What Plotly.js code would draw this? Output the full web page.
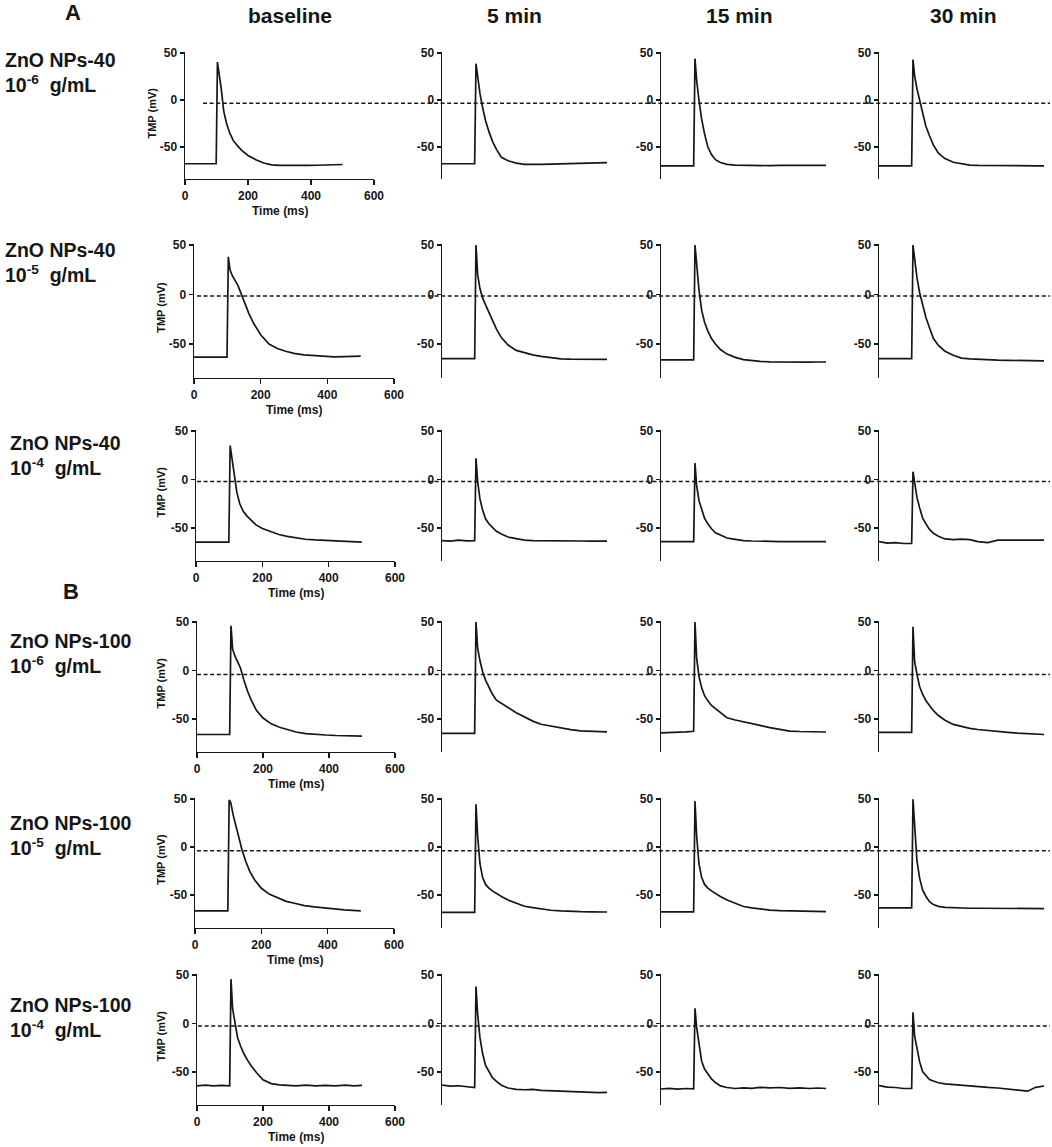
<!DOCTYPE html>
<html><head><meta charset="utf-8">
<script src="https://cdn.plot.ly/plotly-3.0.1.min.js"></script>
<style>html,body{margin:0;padding:0;background:#fff}#chart{width:1052px;height:1147px}</style>
</head><body><div id="chart"></div>
<script>
// ---------- data ----------
const timeMs = [0,25,50,75,99,103,108,115,123,132,142,153,165,180,200,225,250,275,300,330,360,390,420,450,475,500];
const columnTitles = ['baseline','5 min','15 min','30 min'];
const groupNames = ['ZnO NPs-40','ZnO NPs-40','ZnO NPs-40','ZnO NPs-100','ZnO NPs-100','ZnO NPs-100'];
const concExponents = ['-6','-5','-4','-6','-5','-4'];
const panelLetters = ['A','B'];
const yTickVals = [-50,0,50];
const yTickText = ['-50','0','50'];
const xTickVals = [0,200,400,600];
const xTickText = ['0','200','400','600'];
const refLineMv = [-3.5,-1.5,-2,-4,-4,-2.5];

// ZnO NPs-40, 10^-6 g/mL
const np40e6_baseline = [-67.8,-67.9,-67.7,-67.9,-67.8,40.4,30,12,-12,-25,-35,-43,-48,-53.5,-59,-63.5,-67,-69,-69.6,-69.8,-69.6,-69.5,-69.4,-69.2,-68.8,-68.6];
const np40e6_5min = [-67.8,-67.9,-67.7,-67.9,-67.8,38.6,24,7,-8,-22,-33.4,-44,-52.5,-61,-64.6,-67.2,-68.4,-68.8,-68.5,-68.2,-68,-67.8,-67.5,-67.2,-66.9,-66.6];
const np40e6_15min = [-70,-70,-70.2,-70,-70,44,21,0,-20,-36,-50,-58,-63.5,-66.5,-68.5,-69.3,-69.6,-69.7,-69.7,-69.8,-69.6,-69.7,-69.5,-69.6,-69.5,-69.5];
const np40e6_30min = [-70,-70,-70,-70.2,-70,43,26,12,-0.5,-14,-28,-38,-48,-56.5,-62.3,-66.2,-68,-69.2,-69.6,-69.8,-70,-70,-69.9,-70,-70,-70];
// ZnO NPs-40, 10^-5 g/mL
const np40e5_baseline = [-63.3,-63.4,-63.3,-63.4,-63.3,38,25,19,14,9,0.4,-9.3,-19.5,-29.8,-40.6,-50.1,-54.5,-57.3,-59.5,-61,-61.8,-62.4,-63,-62.8,-62.6,-62.3];
const np40e5_5min = [-64.8,-64.9,-64.8,-64.9,-64.8,50,20,6,-3.4,-10.5,-18.5,-26.5,-35,-43.5,-51,-56.5,-59,-61,-62.5,-63.7,-65,-65.3,-65.5,-65.5,-65.5,-65.5];
const np40e5_15min = [-66,-66.1,-66,-66.1,-66,50,28,5,-15.5,-28,-37,-44.5,-50,-55.6,-60.2,-63.5,-65.8,-67,-67.6,-68,-68.2,-68.2,-68.2,-68.3,-68.2,-68.2];
const np40e5_30min = [-64.8,-64.9,-64.8,-64.9,-64.8,50,35,17,2,-11,-23,-33.5,-44.5,-51.5,-57.3,-61.4,-64.2,-65,-65.6,-66,-66.3,-66.5,-66.6,-66.8,-66.9,-67];
// ZnO NPs-40, 10^-4 g/mL
const np40e4_baseline = [-64.5,-64.6,-64.5,-64.6,-64.5,35,22,9,-13,-25,-32.5,-37.5,-42,-46.5,-50.5,-54,-56.7,-58.6,-60,-61.6,-62.3,-62.8,-63.6,-64,-64.3,-64.5];
const np40e4_5min = [-63,-63.5,-62.6,-63.3,-63,21.8,-2,-20,-31.5,-40.5,-45.6,-49.8,-53.4,-56.2,-59.3,-61,-62.5,-63,-63.2,-63.4,-63.3,-63.5,-63.4,-63.5,-63.4,-63.5];
const np40e4_15min = [-64,-64,-64.1,-64,-64,17,-6,-21.6,-31.4,-40,-45.7,-50.8,-54.9,-57.4,-60.3,-61.7,-63,-63.4,-63.7,-63.9,-64,-64,-64.1,-64,-64.1,-64];
const np40e4_30min = [-64,-65.5,-65,-66,-65.8,8,-3,-18.5,-29,-39.5,-45.5,-51.5,-55.5,-58.5,-61.3,-62,-61.5,-62,-64,-65,-62.5,-62.5,-62.7,-62.5,-62.7,-62.6];
// ZnO NPs-100, 10^-6 g/mL
const np100e6_baseline = [-66,-66.1,-66,-66.1,-66,46,22,15,9.3,2.3,-9.7,-21.2,-31,-41,-49,-55,-58.5,-61.2,-63.4,-65,-66,-66.5,-67,-67.2,-67.4,-67.6];
const np100e6_5min = [-64.8,-64.9,-64.8,-64.9,-64.8,50,23,10,-1,-10,-17.5,-24.5,-30.6,-33.5,-38.2,-43.5,-47.6,-52.2,-55.4,-57.4,-59.2,-60.9,-62.3,-62.8,-63.1,-63.3];
const np100e6_15min = [-64.4,-64.2,-63.8,-63.3,-62.7,50,13,-6,-17.6,-26,-31.3,-36,-39.3,-43.4,-48.7,-51,-53.1,-54.8,-56.6,-58.9,-60.8,-62.4,-62.9,-63.1,-63.3,-63.4];
const np100e6_30min = [-63.7,-63.8,-63.7,-63.8,-63.7,45,9,-3.8,-16.5,-24.5,-30.9,-36.1,-41.4,-46.4,-51.2,-55.6,-57.8,-59.7,-60.8,-62,-63,-63.8,-64.6,-65.2,-65.6,-66];
// ZnO NPs-100, 10^-5 g/mL
const np100e5_baseline = [-66.5,-66.6,-66.5,-66.6,-66.5,49,46,33.5,21.6,9,-3.4,-14.9,-25.4,-34.3,-43,-49.3,-53.3,-56.6,-58.6,-61,-62.4,-63.6,-64.8,-65.5,-66,-66.5];
const np100e5_5min = [-68,-68.1,-68,-68.1,-68,44.4,11.5,-17.4,-31.6,-39,-42.8,-45.7,-48.6,-51.5,-55.2,-58.5,-61.7,-63.1,-64.6,-65.9,-66.6,-67.2,-67.4,-67.5,-67.6,-67.7];
const np100e5_15min = [-67.5,-67.6,-67.5,-67.6,-67.5,48,12,-17.4,-31.6,-39,-42.8,-45.7,-48.6,-51.5,-55.3,-58.8,-62,-63.5,-64.6,-65.8,-66.3,-66.6,-66.9,-67.1,-67.3,-67.4];
const np100e5_30min = [-63.5,-63.6,-63.5,-63.6,-63.5,49.6,18,-14.4,-32.2,-44.7,-51.3,-57,-60,-61.8,-62.8,-63.3,-63.6,-63.8,-63.8,-63.9,-64,-63.9,-64,-64,-64.1,-64.2];
// ZnO NPs-100, 10^-4 g/mL
const np100e4_baseline = [-64.3,-63.6,-64.4,-63.7,-64.2,45.7,15,-1,-14.7,-23.2,-31.2,-37.8,-44.1,-50.5,-58,-62,-63.3,-63.8,-64.3,-63.6,-64.4,-63.7,-64.3,-63.6,-64.3,-63.8];
const np100e4_5min = [-63.5,-64.5,-64.2,-65.3,-66,38.2,9.7,-14.6,-31,-43.3,-49.9,-55.8,-59.7,-63.7,-66.5,-68,-68.3,-68,-69,-69.5,-70,-70.3,-70.3,-71,-71.3,-71];
const np100e4_15min = [-67.5,-66.8,-67.7,-67,-67.4,15.6,-4,-23,-38.6,-47,-52.3,-57.2,-60.9,-64.3,-66,-67,-66.3,-66.8,-65.8,-66.4,-66,-66.8,-66.3,-67,-66.5,-67];
const np100e4_30min = [-64,-65.5,-66,-67,-67,11.6,-13,-27.4,-39.3,-49.6,-53.8,-57.7,-59.3,-61.1,-62.2,-63,-63.8,-64.4,-65,-65.9,-66.5,-67.5,-68.6,-69.8,-65.8,-64.4];

const traceRows = [
  [np40e6_baseline, np40e6_5min, np40e6_15min, np40e6_30min],
  [np40e5_baseline, np40e5_5min, np40e5_15min, np40e5_30min],
  [np40e4_baseline, np40e4_5min, np40e4_15min, np40e4_30min],
  [np100e6_baseline, np100e6_5min, np100e6_15min, np100e6_30min],
  [np100e5_baseline, np100e5_5min, np100e5_15min, np100e5_30min],
  [np100e4_baseline, np100e4_5min, np100e4_15min, np100e4_30min]
];

// ---------- geometry & style ----------
const W = 1052, H = 1147;
const FONT = 'Liberation Sans, Arial, sans-serif';
const INK = '#161616';
const rowTop = [53,245,431,622,799,975];          // pixel of +50 mV
const rowScale = [0.94,0.99,0.97,0.97,0.96,0.97]; // px per mV
const baseX = [[185,374],[194,394],[196,395],[197,395],[195,394],[197,395]];
const colX0 = [442,661,879];
const PX_PER_MS = 0.33;
const X_OTHER_MAX = 515;
const Y_LO = -84, Y_HI = 51;
const dashStart = [203,197,197,197,197,198];
const labelX = [3,3,8,8,8,8];
const labelY1 = [60,250,443,641,823,1005];
const titleCx = [290,514,739,963];

const fx = px => px / W;
const fy = py => 1 - py / H;

const data = [];
const layout = {
  width: W, height: H,
  margin: {l:0, r:0, t:0, b:0},
  paper_bgcolor: '#ffffff', plot_bgcolor: 'rgba(0,0,0,0)',
  showlegend: false, annotations: [], shapes: [],
  font: {family: FONT, color: INK}
};

function ann(text, x, y, size, extra) {
  layout.annotations.push(Object.assign({
    text: text, x: fx(x), y: fy(y), xref: 'paper', yref: 'paper',
    xanchor: 'center', yanchor: 'middle', showarrow: false,
    font: {family: FONT, size: size, color: INK, weight: 'bold'}
  }, extra || {}));
}

const axisLine = {showline: true, linecolor: INK, linewidth: 1.5, ticks: 'outside',
  tickcolor: INK, tickwidth: 1.5, showgrid: false, zeroline: false, fixedrange: true,
  tickmode: 'array', tickfont: {family: FONT, size: 12, color: INK, weight: 'bold'}};

for (let r = 0; r < 6; r++) {
  const s = rowScale[r];
  const topPx = rowTop[r] - (Y_HI - 50) * s;
  const botPx = rowTop[r] + (50 - Y_LO) * s;
  for (let c = 0; c < 4; c++) {
    const k = r * 4 + c + 1;
    const sfx = k === 1 ? '' : String(k);
    let x0, x1, xr;
    if (c === 0) { x0 = baseX[r][0]; x1 = baseX[r][1]; xr = [0, 600]; }
    else { x0 = colX0[c-1]; x1 = x0 + X_OTHER_MAX * PX_PER_MS; xr = [0, X_OTHER_MAX]; }
    if (c === 0) {
      layout['xaxis' + sfx] = Object.assign({}, axisLine, {
        domain: [fx(x0), fx(x1)], range: xr, anchor: 'y' + sfx,
        tickvals: xTickVals, ticktext: xTickText, ticklen: 5
      });
    } else {
      layout['xaxis' + sfx] = {domain: [fx(x0), fx(x1)], range: xr, anchor: 'y' + sfx,
        visible: false, fixedrange: true};
    }
    layout['yaxis' + sfx] = Object.assign({}, axisLine, {
      domain: [fy(botPx), fy(topPx)], range: [Y_LO, Y_HI], anchor: 'x' + sfx,
      tickvals: yTickVals, ticktext: yTickText, ticklen: 4
    });
    data.push({
      type: 'scatter', mode: 'lines', x: timeMs, y: traceRows[r][c],
      xaxis: 'x' + sfx, yaxis: 'y' + sfx,
      line: {color: INK, width: 1.7}, hoverinfo: 'skip'
    });
  }
  const ysfx = r === 0 ? '' : String(r * 4 + 1);
  layout.shapes.push({type: 'line', xref: 'paper', yref: 'y' + ysfx,
    x0: fx(dashStart[r]), x1: fx(1050), y0: refLineMv[r], y1: refLineMv[r],
    line: {color: INK, width: 1.5, dash: '4px,2.6px'}});

  // axis titles for baseline column
  ann('Time (ms)', (baseX[r][0] + baseX[r][1]) / 2, botPx + 32, 12);
  ann('TMP (mV)', r === 0 ? 152 : 161, (topPx + botPx) / 2 - 3, 11, {textangle: -90});

  // row labels
  ann(groupNames[r], labelX[r], labelY1[r], 19.5, {xanchor: 'left'});
  ann('10<sup>' + concExponents[r] + '</sup>\u00a0\u00a0g/mL', labelX[r], labelY1[r] + 24, 19.5, {xanchor: 'left'});
}

columnTitles.forEach((t, i) => ann(t, titleCx[i], 16, 21));
ann(panelLetters[0], 73, 13, 22);
ann(panelLetters[1], 71, 591, 22);

Plotly.newPlot('chart', data, layout, {staticPlot: true, displayModeBar: false});
</script></body></html>
